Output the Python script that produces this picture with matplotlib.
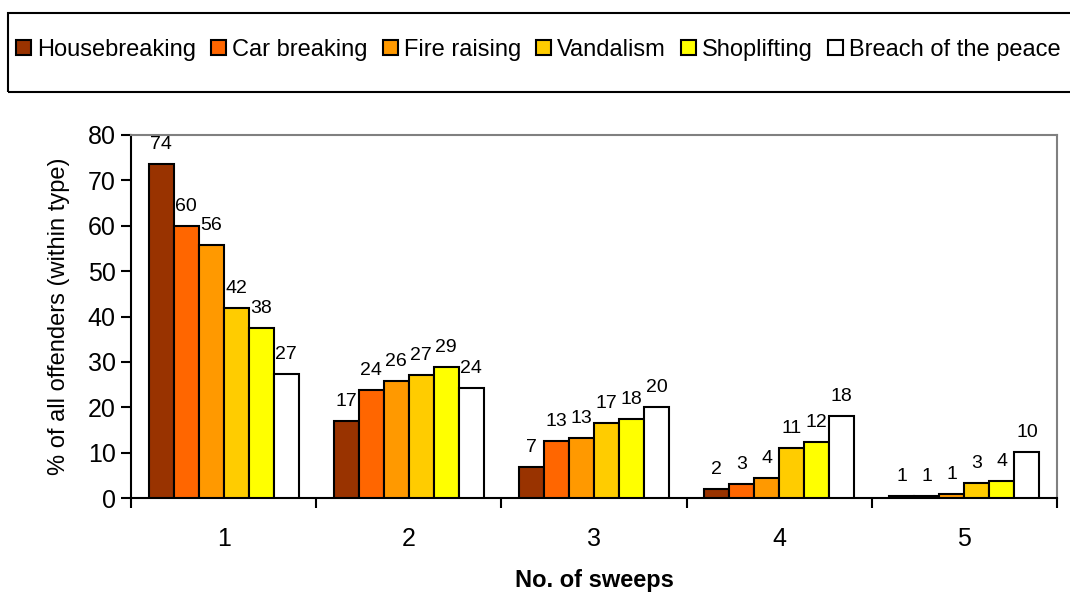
import numpy as np
import matplotlib.pyplot as plt
from matplotlib.patches import Rectangle

plt.rcParams['font.family'] = ['Liberation Sans', 'DejaVu Sans']

# data
sweeps = ['1', '2', '3', '4', '5']
offence_types = ['Housebreaking', 'Car breaking', 'Fire raising',
                 'Vandalism', 'Shoplifting', 'Breach of the peace']
colors = ['#993300', '#FF6600', '#FF9900', '#FFCC00', '#FFFF00', '#FFFFFF']

housebreaking = [73.6, 17.0, 6.8, 2.0, 0.5]
car_breaking = [59.9, 23.8, 12.6, 3.1, 0.5]
fire_raising = [55.7, 25.8, 13.2, 4.4, 0.8]
vandalism = [41.9, 27.1, 16.5, 11.0, 3.3]
shoplifting = [37.4, 28.9, 17.4, 12.3, 3.8]
breach = [27.3, 24.2, 20.0, 18.1, 10.1]

# printed labels (rounded in the source)
hb_lbl = [74, 17, 7, 2, 1]
cb_lbl = [60, 24, 13, 3, 1]
fr_lbl = [56, 26, 13, 4, 1]
va_lbl = [42, 27, 17, 11, 3]
sh_lbl = [38, 29, 18, 12, 4]
bp_lbl = [27, 24, 20, 18, 10]

series = [housebreaking, car_breaking, fire_raising, vandalism, shoplifting, breach]
labels = [hb_lbl, cb_lbl, fr_lbl, va_lbl, sh_lbl, bp_lbl]

fig = plt.figure(figsize=(10.7, 5.97), dpi=100)
ax = fig.add_axes([131 / 1070, 1 - 498 / 597, 926 / 1070, 363 / 597])

x = np.arange(len(sweeps))
width = 0.135
handles = []
for i, (vals, lbls) in enumerate(zip(series, labels)):
    pos = x + (i - 2.5) * width
    bars = ax.bar(pos, vals, width, color=colors[i], edgecolor='black',
                  linewidth=1.5, label=offence_types[i], zorder=3)
    for b, l in zip(bars, lbls):
        ax.annotate(str(l), (b.get_x() + b.get_width() / 2, b.get_height()),
                    xytext=(0, 8), textcoords='offset points',
                    ha='center', va='bottom', fontsize=14)
    handles.append(bars)

ax.set_ylim(0, 80)
ax.set_yticks(range(0, 81, 10))
ax.set_xlim(-0.5, 4.5)
ax.set_xticks(np.arange(-0.5, 5, 1))
ax.set_xticklabels([])
ax.set_xticks(x, minor=True)
ax.set_xticklabels(sweeps, minor=True)
ax.tick_params(axis='x', which='major', direction='out', length=7, width=1.5)
ax.tick_params(axis='x', which='minor', length=0, pad=21, labelsize=18)
ax.tick_params(axis='y', direction='out', length=7, width=1.5, pad=4, labelsize=18)

for s in ['left', 'bottom']:
    ax.spines[s].set_linewidth(1.5)
    ax.spines[s].set_color('black')
for s in ['top', 'right']:
    ax.spines[s].set_linewidth(1.5)
    ax.spines[s].set_color('#808080')

ax.set_ylabel('% of all offenders (within type)', fontsize=17)
ax.yaxis.set_label_coords(-0.066, 0.5)
ax.set_xlabel('No. of sweeps', fontsize=17, fontweight='bold')
ax.xaxis.set_label_coords(0.5, -0.195)

# legend box across the top
fig.patches.append(Rectangle((8 / 1070, 1 - 92 / 597), 1.0, 79 / 597,
                             transform=fig.transFigure, fill=False,
                             edgecolor='black', linewidth=1.5))
fig.legend(handles, offence_types, loc='center left',
           bbox_to_anchor=(16 / 1070, 1 - 50 / 597), ncol=6, frameon=False,
           fontsize=17, handlelength=0.63, handleheight=0.63,
           handletextpad=0.25, columnspacing=0.65, borderpad=0,
           borderaxespad=0)

plt.savefig('out.png', dpi=100)
